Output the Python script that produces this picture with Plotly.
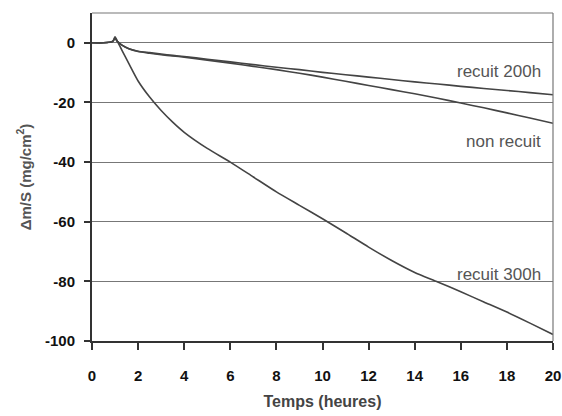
import plotly.graph_objects as go

# Data
t = [0, 0.5, 0.9, 1.0, 1.1, 1.3, 1.6, 2, 2.5, 3, 3.5, 4, 5, 6, 7, 8, 9, 10, 11, 12, 13, 14, 15, 16, 17, 18, 19, 20]
recuit_200h = [0, 0, 0.5, 1.5, 0.5, -0.8, -2.0, -2.8, -3.3, -3.8, -4.2, -4.6, -5.5, -6.4, -7.3, -8.2, -9.0, -9.9, -10.7, -11.5, -12.3, -13.1, -13.8, -14.6, -15.3, -16.0, -16.7, -17.4]
non_recuit = [0, 0, 0.5, 1.5, 0.5, -0.8, -2.0, -2.9, -3.5, -4.0, -4.4, -4.8, -5.8, -6.8, -7.9, -9.0, -10.2, -11.5, -12.9, -14.3, -15.7, -17.1, -18.6, -20.2, -21.8, -23.5, -25.2, -27.0]
recuit_300h = [0, 0, 0.5, 2.0, 0.5, -2.5, -7.0, -12.8, -18.2, -22.7, -26.6, -30.0, -35.4, -40.0, -45.0, -50.0, -54.5, -59.0, -63.7, -68.5, -73.0, -77.0, -80.2, -83.5, -86.9, -90.3, -94.0, -97.8]

labels = ["recuit 200h", "non recuit", "recuit 300h"]
label_x = [20, 20, 20]
label_y = [-9.5, -33, -77.7]

x_ticks = list(range(0, 21, 2))
y_ticks = list(range(-100, 1, 20))
y_ticktext = [str(v) for v in y_ticks]

fig = go.Figure()
line_style = dict(color="#444444", width=1.6, shape="spline", smoothing=0.6)
for name, ys in zip(labels, [recuit_200h, non_recuit, recuit_300h]):
    fig.add_trace(go.Scatter(x=t, y=ys, mode="lines", line=line_style, name=name, showlegend=False))

for lab, lx, ly in zip(labels, label_x, label_y):
    fig.add_annotation(x=lx, y=ly, text=lab, showarrow=False, xanchor="right", xshift=-10,
                       font=dict(family="Liberation Sans", size=17, color="#555555", weight=500))

bold = dict(family="Liberation Sans", size=15, color="#111111", weight="bold")
fig.update_layout(
    width=562, height=416,
    margin=dict(l=92, r=9, t=13, b=75, autoexpand=False),
    paper_bgcolor="white", plot_bgcolor="white",
    font=dict(family="Liberation Sans", color="#222222"),
    xaxis=dict(range=[0, 20], tickvals=x_ticks, ticktext=[str(v) for v in x_ticks],
               ticks="outside", ticklen=7, tickcolor="#333",
               tickwidth=2, showline=True, linecolor="#333", linewidth=2,
               showgrid=False, zeroline=False, automargin=False,
               tickfont=bold, ticklabelstandoff=13,
               title=dict(text="Temps (heures)", font=dict(family="Liberation Sans", size=16, color="#444444", weight="bold"), standoff=13)),
    yaxis=dict(range=[-100, 10], tickvals=y_ticks, ticktext=y_ticktext,
               ticks="outside", ticklen=6, tickcolor="#333",
               tickwidth=2, showline=True, linecolor="#333", linewidth=2,
               showgrid=True, gridcolor="#777777", gridwidth=1.2, zeroline=False, automargin=False,
               tickfont=bold, ticklabelstandoff=6,
               title=dict(text="Δm/S (mg/cm<sup>2</sup>)", font=dict(family="Liberation Sans", size=15, color="#555555", weight="bold"), standoff=10)),
)
# frame top and right
fig.add_shape(type="line", xref="paper", yref="paper", x0=0, x1=1, y0=1, y1=1, line=dict(color="#777777", width=1.2))
fig.add_shape(type="line", xref="paper", yref="paper", x0=1, x1=1, y0=0, y1=1, line=dict(color="#777777", width=1.2))

fig.write_html("out.html", config={"displayModeBar": False},
               post_script="document.body.style.margin='0';document.body.style.overflow='hidden';")
